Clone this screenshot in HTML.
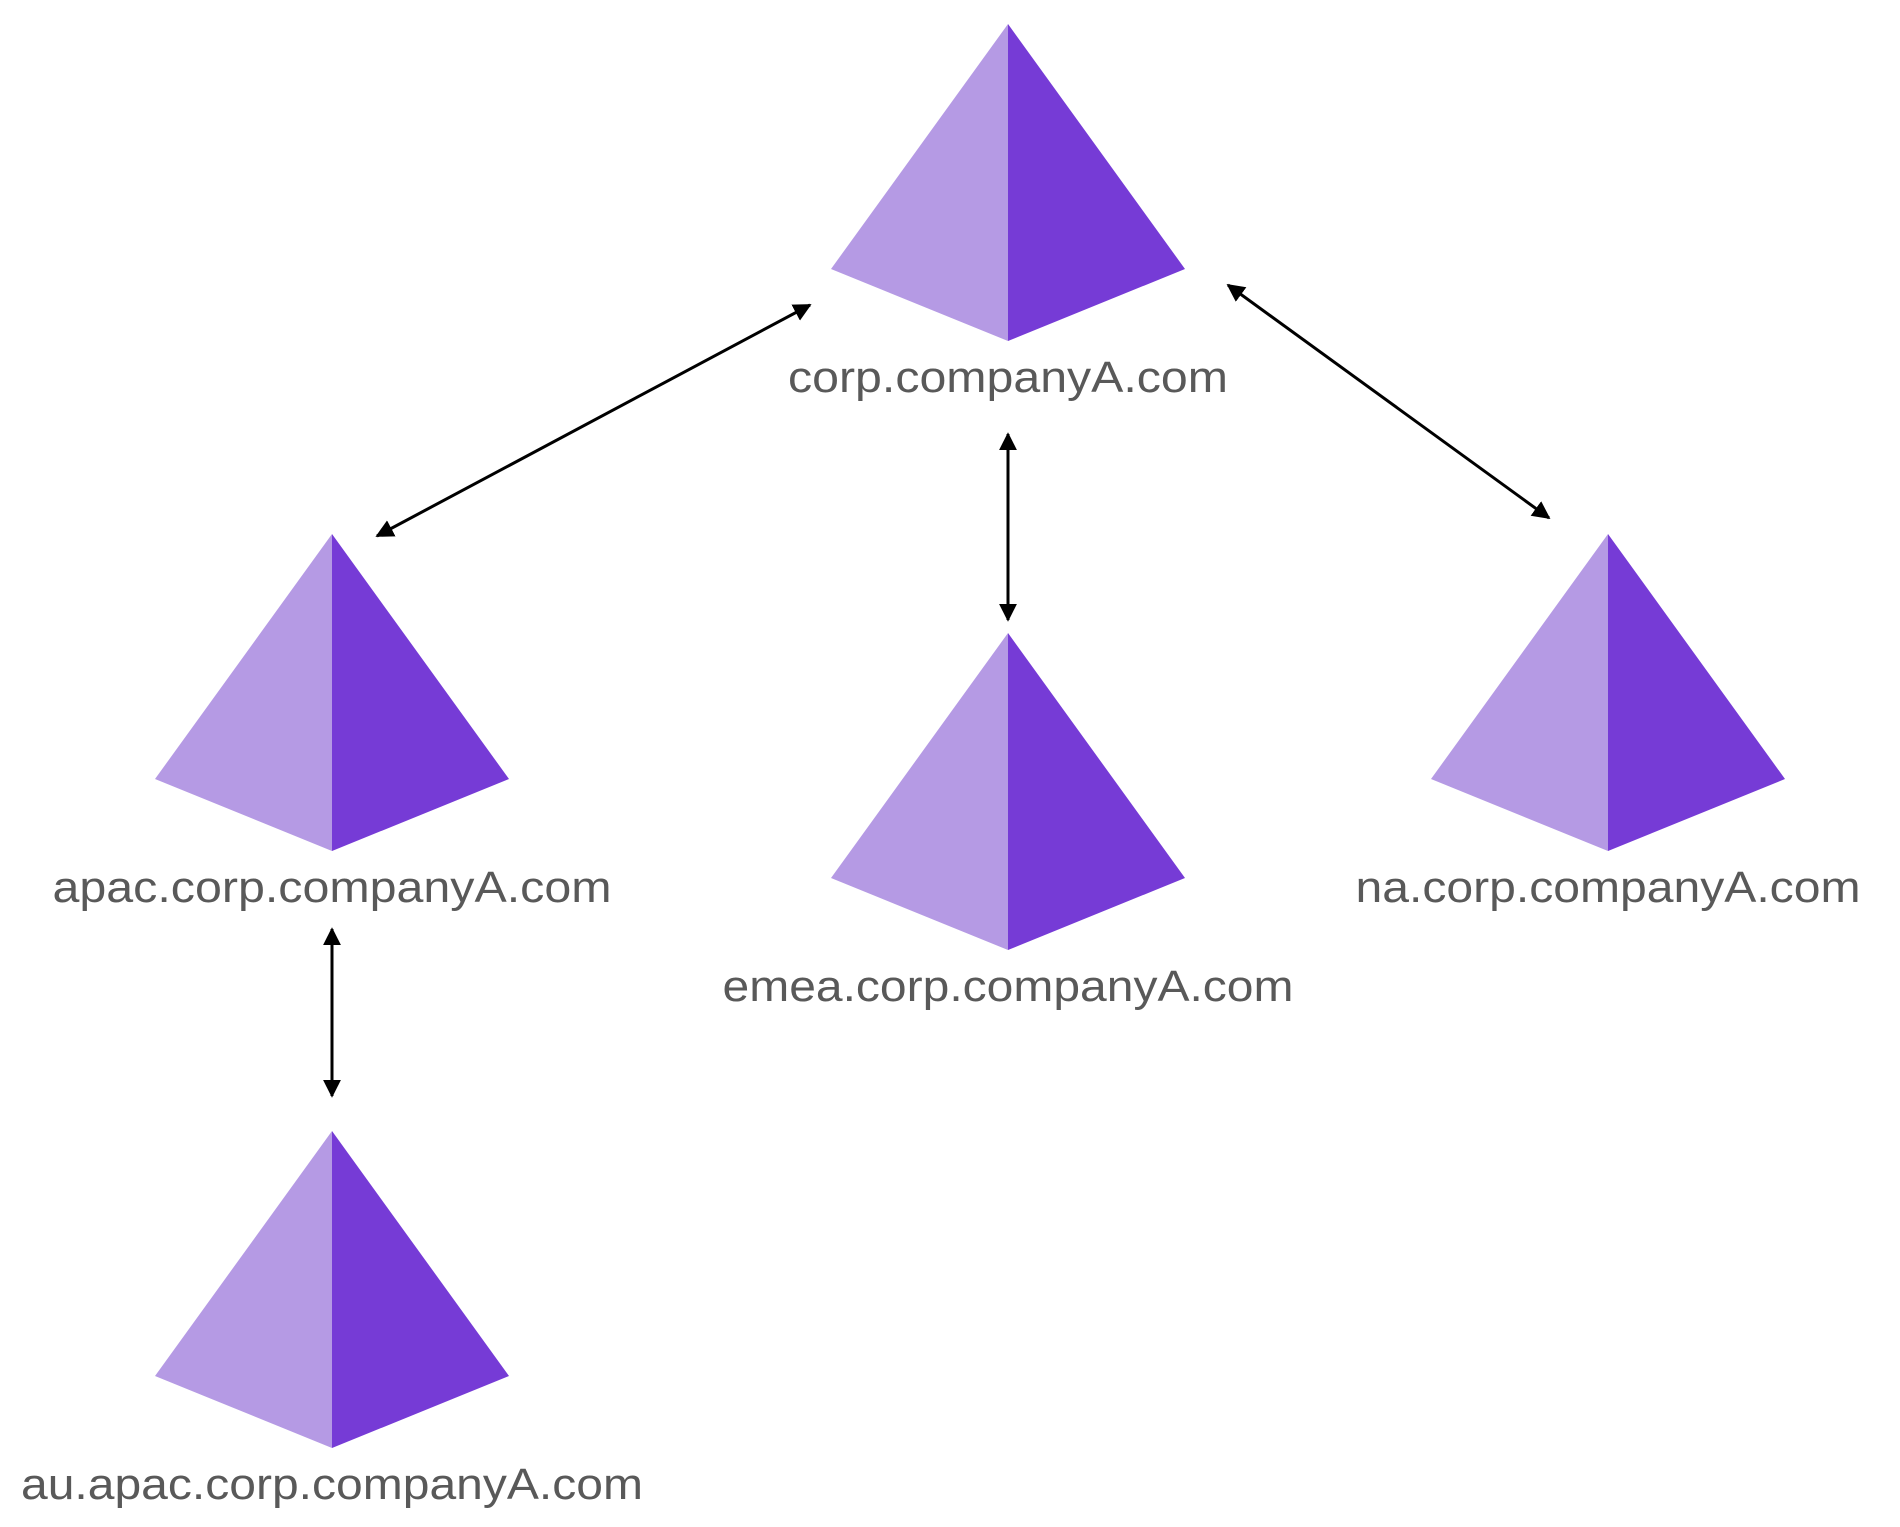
<!DOCTYPE html>
<html><head><meta charset="utf-8"><style>html,body{margin:0;padding:0;background:#fff}</style></head>
<body>
<svg width="1900" height="1522" viewBox="0 0 1900 1522" xmlns="http://www.w3.org/2000/svg">
<defs>
<marker id="a" viewBox="0 0 10 10" refX="9" refY="5" markerWidth="6" markerHeight="6" orient="auto-start-reverse">
<path d="M0,0 L10,5 L0,10 z" fill="#000"/>
</marker>
<g id="p">
<polygon points="0,0 -177,245 0,317" fill="#b59ae4"/>
<polygon points="0,0 177,245 0,317" fill="#763bd6"/>
</g>
</defs>
<use href="#p" x="1008" y="24"/>
<use href="#p" x="332" y="534"/>
<use href="#p" x="1008" y="633"/>
<use href="#p" x="1608" y="534"/>
<use href="#p" x="332" y="1131"/>
<g stroke="#000" stroke-width="3" fill="none" marker-start="url(#a)" marker-end="url(#a)">
<line x1="810" y1="305" x2="377" y2="536"/>
<line x1="1008" y1="434" x2="1008" y2="620"/>
<line x1="1228" y1="285" x2="1549" y2="518"/>
<line x1="332" y1="929" x2="332" y2="1096"/>
</g>
<g font-family="Liberation Sans, Helvetica, Arial, sans-serif" font-size="44" fill="#595959" text-anchor="middle">
<text x="1008" y="392" textLength="440" lengthAdjust="spacingAndGlyphs">corp.companyA.com</text>
<text x="332" y="902" textLength="559" lengthAdjust="spacingAndGlyphs">apac.corp.companyA.com</text>
<text x="1008" y="1001" textLength="571" lengthAdjust="spacingAndGlyphs">emea.corp.companyA.com</text>
<text x="1608" y="902" textLength="505" lengthAdjust="spacingAndGlyphs">na.corp.companyA.com</text>
<text x="332" y="1499" textLength="622" lengthAdjust="spacingAndGlyphs">au.apac.corp.companyA.com</text>
</g>
</svg>
</body></html>
